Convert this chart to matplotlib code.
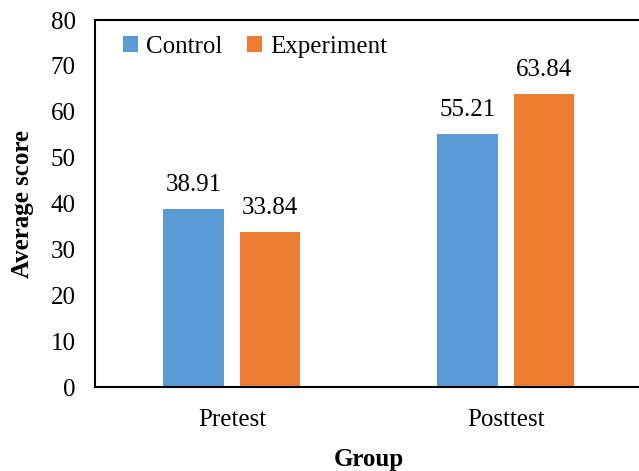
import matplotlib.pyplot as plt
import numpy as np

groups = ['Pretest', 'Posttest']
control = [38.91, 55.21]
experiment = [33.84, 63.84]
series_names = ['Control', 'Experiment']
colors = ['#5B9BD5', '#ED7D31']

plt.rcParams['font.family'] = ['Liberation Serif', 'DejaVu Serif']

fig = plt.figure(figsize=(6.39, 4.71), dpi=100)
ax = fig.add_axes([0.1487, 0.1783, 0.857, 0.7792])

x = np.arange(len(groups))
w = 0.22
off = 0.14
b1 = ax.bar(x - off, control, w, color=colors[0], label=series_names[0])
b2 = ax.bar(x + off, experiment, w, color=colors[1], label=series_names[1])

for bars, vals in [(b1, control), (b2, experiment)]:
    for rect, v in zip(bars, vals):
        ax.text(rect.get_x() + rect.get_width() / 2, v + 2.8, f'{v:.2f}',
                ha='center', va='bottom', fontsize=18)

ax.set_xlim(-0.5, 1.5)
ax.set_ylim(0, 80)
ax.set_yticks(range(0, 81, 10))
ax.set_xticks(x)
ax.set_xticklabels(groups)
ax.tick_params(length=0, labelsize=18)
ax.tick_params(axis='x', pad=16)
ax.tick_params(axis='y', pad=14)
for s in ['left', 'top', 'bottom', 'right']:
    ax.spines[s].set_linewidth(1.5)

ax.set_xlabel('Group', fontsize=18, fontweight='bold', labelpad=12)
ax.set_ylabel('Average score', fontsize=18, fontweight='bold', labelpad=12)

ax.legend(loc='upper left', ncol=2, frameon=False, fontsize=18,
          handlelength=0.6, handleheight=0.6, handletextpad=0.3,
          columnspacing=1.0, borderaxespad=0.3, bbox_to_anchor=(0.02, 1.005))

fig.savefig('out.png', dpi=100)
